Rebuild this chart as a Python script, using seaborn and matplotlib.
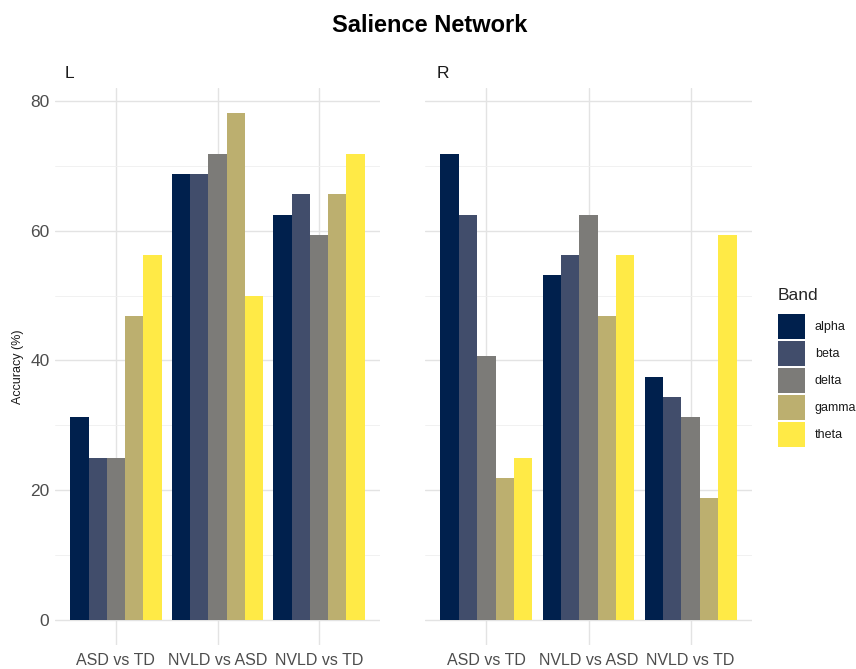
import matplotlib
matplotlib.use("Agg")
import matplotlib.pyplot as plt
from matplotlib.patches import Patch
from matplotlib.ticker import MultipleLocator
import seaborn as sns
import pandas as pd

# Classification accuracy (%) per comparison and EEG band, by hemisphere
comparisons = ["ASD vs TD", "NVLD vs ASD", "NVLD vs TD"]
bands = ["alpha", "beta", "delta", "gamma", "theta"]
left_acc = [
    [31.25, 25.0, 25.0, 46.875, 56.25],
    [68.75, 68.75, 71.875, 78.125, 50.0],
    [62.5, 65.625, 59.375, 65.625, 71.875],
]
right_acc = [
    [71.875, 62.5, 40.625, 21.875, 25.0],
    [53.125, 56.25, 62.5, 46.875, 56.25],
    [37.5, 34.375, 31.25, 18.75, 59.375],
]
band_colors = ["#00204D", "#414D6B", "#7C7B78", "#BCAF6F", "#FFEA46"]

rows = []
for side, acc in (("L", left_acc), ("R", right_acc)):
    for comp, vals in zip(comparisons, acc):
        for band, v in zip(bands, vals):
            rows.append({"Side": side, "Comparison": comp, "Band": band, "Accuracy": v})
df = pd.DataFrame(rows)

sns.set_theme(style="whitegrid")
plt.rcParams["font.family"] = ["Liberation Sans", "DejaVu Sans"]

W, H = 856, 669
fig = plt.figure(figsize=(W / 100, H / 100), dpi=100)
fig.patch.set_facecolor("white")

ymax = 78.125
pad = ymax * 0.05
panels = [("L", 55, 380), ("R", 425, 752)]
top_px, bot_px = 88, 645

axes = []
for side, x0, x1 in panels:
    ax = fig.add_axes([x0 / W, 1 - bot_px / H, (x1 - x0) / W, (bot_px - top_px) / H])
    sub = df[df["Side"] == side]
    sns.barplot(data=sub, x="Comparison", y="Accuracy", hue="Band",
                order=comparisons, hue_order=bands, palette=band_colors,
                width=0.9, errorbar=None, saturation=1, legend=False,
                edgecolor="none", linewidth=0, ax=ax)
    ax.set_facecolor("white")
    ax.set_xlim(-0.6, 2.6)
    ax.set_ylim(-pad, ymax + pad)
    ax.yaxis.set_major_locator(MultipleLocator(20))
    ax.yaxis.set_minor_locator(MultipleLocator(10))
    ax.grid(True, which="major", color="#E3E3E3", linewidth=1.0)
    ax.grid(True, which="minor", axis="y", color="#EFEFEF", linewidth=0.6)
    ax.set_axisbelow(True)
    for s in ax.spines.values():
        s.set_visible(False)
    ax.tick_params(axis="y", length=0, labelsize=12.5, colors="#4D4D4D", pad=4)
    ax.tick_params(axis="x", length=0, labelsize=11.5, colors="#4D4D4D", pad=6)
    ax.set_xlabel("")
    ax.set_ylabel("")
    ax.text(0.03 if side == "L" else 0.035, 1.012, side, transform=ax.transAxes,
            fontsize=12.5, color="#1A1A1A", ha="left", va="bottom")
    axes.append(ax)

axes[1].set_yticklabels([])
fig.text(18 / W, 1 - ((top_px + bot_px) / 2) / H, "Accuracy (%)", rotation=90,
         fontsize=9, color="#1A1A1A", ha="center", va="center")

fig.text(430 / W, 1 - 26 / H, "Salience Network", fontsize=17, fontweight="bold",
         ha="center", va="center", color="black")

handles = [Patch(facecolor=c, edgecolor="none", label=b) for b, c in zip(bands, band_colors)]
leg = fig.legend(handles=handles, title="Band", loc="upper left",
                 bbox_to_anchor=(778 / W, 1 - 288 / H), frameon=False,
                 borderpad=0, borderaxespad=0,
                 fontsize=9, title_fontsize=12.5, handlelength=2.15, handleheight=2.7,
                 handletextpad=0.8, labelspacing=0.16, alignment="left")
leg._legend_box.sep = 8
for t in leg.get_texts():
    t.set_color("#1A1A1A")

fig.savefig("out.png", dpi=100, facecolor="white")
